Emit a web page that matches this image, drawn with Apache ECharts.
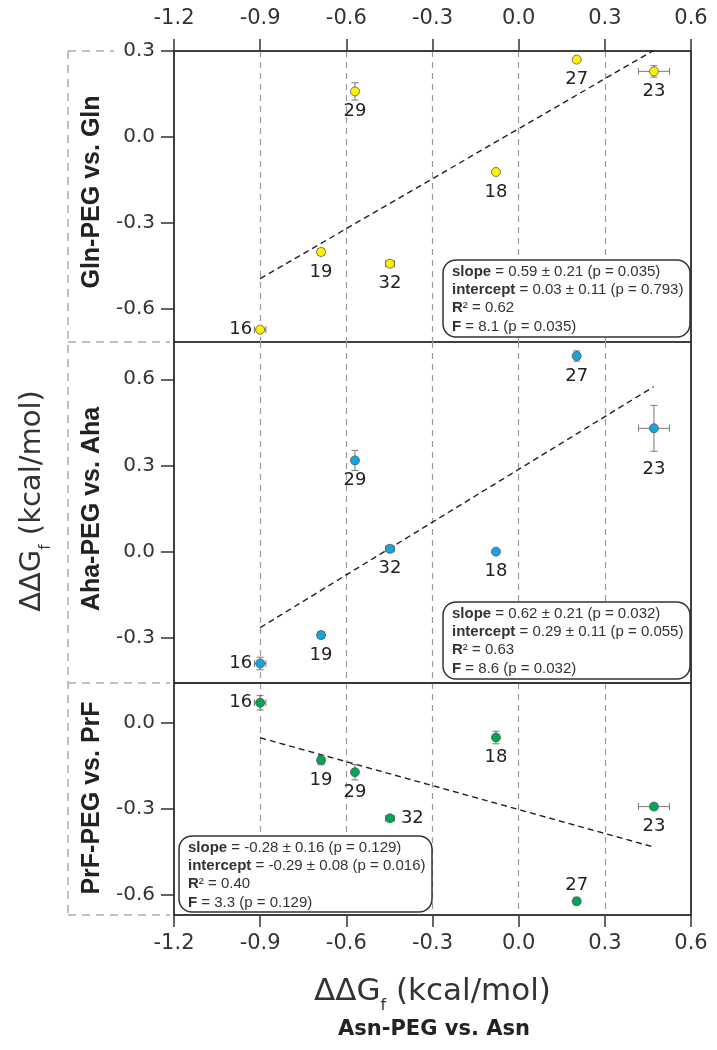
<!DOCTYPE html>
<html>
<head>
<meta charset="utf-8">
<script src="https://cdn.jsdelivr.net/npm/echarts@6/dist/echarts.min.js"></script>
<style>
html,body{margin:0;padding:0;background:#fff;}
#chart{width:717px;height:1050px;}
</style>
</head>
<body>
<div id="chart"></div>
<script>
// ---- data ----
const residues = ['29', '19', '16', '32', '18', '27', '23'];
const asnX    = [-0.570, -0.688, -0.900, -0.448, -0.079, 0.202, 0.471];
const asnXErr = [0.006, 0.012, 0.020, 0.015, 0.006, 0.008, 0.054];

const glnY    = [0.159, -0.401, -0.672, -0.442, -0.122, 0.270, 0.229];
const glnYErr = [0.030, 0.010, 0.008, 0.010, 0.005, 0.005, 0.020];
const ahaY    = [0.317, -0.292, -0.391, 0.009, -0.001, 0.681, 0.429];
const ahaYErr = [0.035, 0.012, 0.022, 0.012, 0.005, 0.018, 0.080];
const prfY    = [-0.173, -0.131, 0.069, -0.334, -0.052, -0.623, -0.293];
const prfYErr = [0.027, 0.016, 0.025, 0.008, 0.022, 0.012, 0.010];

const glnFit = [[-0.9, -0.494], [0.47, 0.302]];
const ahaFit = [[-0.9, -0.266], [0.47, 0.574]];
const prfFit = [[-0.9, -0.053], [0.47, -0.434]];

const xRange = [-1.2, 0.6];
const xStep = 0.3;
const glnRange = [-0.715, 0.3];
const ahaRange = [-0.459, 0.73];
const prfRange = [-0.671, 0.138];
const glnTicks = [-0.6, -0.3, 0, 0.3];
const ahaTicks = [-0.3, 0, 0.3, 0.6];
const prfTicks = [-0.6, -0.3, 0];

const panelNames = ['Gln-PEG vs. Gln', 'Aha-PEG vs. Aha', 'PrF-PEG vs. PrF'];
const xPanelName = 'Asn-PEG vs. Asn';
const statLabels = ['slope', 'intercept', 'R', 'F'];
const glnStats = ['0.59 ± 0.21 (p = 0.035)', '0.03 ± 0.11 (p = 0.793)', '0.62', '8.1 (p = 0.035)'];
const ahaStats = ['0.62 ± 0.21 (p = 0.032)', '0.29 ± 0.11 (p = 0.055)', '0.63', '8.6 (p = 0.032)'];
const prfStats = ['-0.28 ± 0.16 (p = 0.129)', '-0.29 ± 0.08 (p = 0.016)', '0.40', '3.3 (p = 0.129)'];

// ---- chart construction ----
const chart = echarts.init(document.getElementById('chart'), null, {renderer: 'canvas'});

const AXIS = '#333';
const GRIDC = '#9a9a9a';
const TICKFONT = 'DejaVu Sans';

const panels = [
  {y: glnY, ye: glnYErr, fit: glnFit, range: glnRange, ticks: glnTicks, color: '#FFF200',
   top: 51, height: 291,
   place: ['bottom','bottom','left','bottom','bottom','bottom','bottom'],
   dist:  [6,6,3,6,6,6,6]},
  {y: ahaY, ye: ahaYErr, fit: ahaFit, range: ahaRange, ticks: ahaTicks, color: '#17A5E0',
   top: 342, height: 341,
   place: ['bottom','bottom','left','bottom','bottom','bottom','bottom'],
   dist:  [6,6,3,6,6,6,27]},
  {y: prfY, ye: prfYErr, fit: prfFit, range: prfRange, ticks: prfTicks, color: '#00A651',
   top: 683, height: 232,
   place: ['bottom','bottom','left','right','bottom','top','bottom'],
   dist:  [6,6,3,6,6,2,6]}
];

const grids = [], xAxes = [], yAxes = [], series = [];
panels.forEach((p, i) => {
  grids.push({left: 174, right: 26, top: p.top, height: p.height, show: true,
              borderColor: AXIS, borderWidth: 1.5, backgroundColor: 'transparent'});
  const isTop = i === 0, isBottom = i === panels.length - 1;
  xAxes.push({
    gridIndex: i, type: 'value', min: xRange[0], max: xRange[1], interval: xStep,
    position: isTop ? 'top' : 'bottom',
    axisLine: {show: true, onZero: false, lineStyle: {color: AXIS, width: 1.5}},
    axisTick: {show: isTop || isBottom, inside: false, length: 12, lineStyle: {color: AXIS, width: 1.5}},
    axisLabel: {show: isTop || isBottom, margin: isTop ? 22 : 18, fontFamily: TICKFONT, fontSize: 21, color: '#333',
                formatter: v => v.toFixed(1)},
    splitLine: {show: true, showMinLine: false, showMaxLine: false,
                lineStyle: {color: GRIDC, type: [6, 5], width: 1.2}}
  });
  yAxes.push({
    gridIndex: i, type: 'value', min: p.range[0], max: p.range[1],
    axisLine: {show: true, onZero: false, lineStyle: {color: AXIS, width: 1.5}},
    axisTick: {show: true, length: 13, customValues: p.ticks, lineStyle: {color: AXIS, width: 1.5}},
    axisLabel: {show: true, margin: 19, fontFamily: TICKFONT, fontSize: 20, color: '#333',
                customValues: p.ticks, formatter: v => v.toFixed(1)},
    splitLine: {show: false}
  });
  // right border as an extra axis line
  yAxes.push({
    gridIndex: i, type: 'value', min: p.range[0], max: p.range[1], position: 'right',
    axisLine: {show: true, onZero: false, lineStyle: {color: AXIS, width: 1.5}},
    axisTick: {show: false}, axisLabel: {show: false}, splitLine: {show: false}
  });

  const yIdx = i * 2;
  const errData = residues.map((r, k) => [asnX[k], p.y[k], asnXErr[k], p.ye[k]]);
  series.push({
    type: 'custom', xAxisIndex: i, yAxisIndex: yIdx, z: 3, silent: true,
    data: errData, encode: {x: 0, y: 1},
    renderItem: (params, api) => {
      const x = api.value(0), y = api.value(1), ex = api.value(2), ey = api.value(3);
      const l = api.coord([x - ex, y]), r = api.coord([x + ex, y]);
      const t = api.coord([x, y + ey]), b = api.coord([x, y - ey]);
      const cap = 3.5;
      const st = {stroke: '#7a7a7a', lineWidth: 1};
      const ch = [];
      ch.push({type: 'line', shape: {x1: l[0], y1: l[1], x2: r[0], y2: r[1]}, style: st});
      ch.push({type: 'line', shape: {x1: l[0], y1: l[1] - cap, x2: l[0], y2: l[1] + cap}, style: st});
      ch.push({type: 'line', shape: {x1: r[0], y1: r[1] - cap, x2: r[0], y2: r[1] + cap}, style: st});
      ch.push({type: 'line', shape: {x1: t[0], y1: t[1], x2: b[0], y2: b[1]}, style: st});
      ch.push({type: 'line', shape: {x1: t[0] - cap, y1: t[1], x2: t[0] + cap, y2: t[1]}, style: st});
      ch.push({type: 'line', shape: {x1: b[0] - cap, y1: b[1], x2: b[0] + cap, y2: b[1]}, style: st});
      return {type: 'group', children: ch};
    }
  });
  series.push({
    type: 'line', xAxisIndex: i, yAxisIndex: yIdx, z: 2, silent: true,
    data: p.fit, symbol: 'none',
    lineStyle: {color: '#222', width: 1.4, type: [6, 4]}
  });
  series.push({
    type: 'scatter', xAxisIndex: i, yAxisIndex: yIdx, z: 4, silent: true,
    symbol: 'circle', symbolSize: 9,
    itemStyle: {color: p.color, borderColor: '#555', borderWidth: 0.8, opacity: 1},
    data: residues.map((r, k) => ({
      value: [asnX[k], p.y[k]],
      name: r,
      label: {show: true, position: p.place[k], distance: p.dist[k], formatter: r,
              fontFamily: TICKFONT, fontSize: 18, color: '#222'}
    }))
  });
});

// stats boxes
function statBox(stats, x, y, w, h) {
  const lines = stats.map((s, k) => {
    if (k === 2) return '{b|R}{n|² = ' + s + '}';
    return '{b|' + statLabels[k] + '}{n| = ' + s + '}';
  }).join('\n');
  return [
    {type: 'rect', z: 50, shape: {x: x, y: y, width: w, height: h, r: 13},
     style: {fill: '#fff', stroke: '#333', lineWidth: 1.5}},
    {type: 'text', z: 51, x: x + 9, y: y + 2.5,
     style: {text: lines, fill: '#333', font: '15px "Liberation Sans"',
       rich: {b: {fontWeight: 'bold', fontSize: 15, fontFamily: 'Liberation Sans', lineHeight: 18.3, fill: '#333'},
              n: {fontSize: 15, fontFamily: 'Liberation Sans', lineHeight: 18.3, fill: '#333'}}}}
  ];
}

const bracketStyle = {stroke: '#aaa', lineWidth: 1.5, lineDash: [8, 6]};
const graphic = [
  // left dashed bracket
  {type: 'line', z: 1, shape: {x1: 68, y1: 51, x2: 68, y2: 915}, style: bracketStyle},
  {type: 'line', z: 1, shape: {x1: 68, y1: 51, x2: 114, y2: 51}, style: bracketStyle},
  {type: 'line', z: 1, shape: {x1: 68, y1: 342, x2: 170, y2: 342}, style: bracketStyle},
  {type: 'line', z: 1, shape: {x1: 68, y1: 683, x2: 170, y2: 683}, style: bracketStyle},
  {type: 'line', z: 1, shape: {x1: 68, y1: 915, x2: 170, y2: 915}, style: bracketStyle},
  // panel titles
  ...[192, 509, 798].map((cy, k) => ({
    type: 'text', z: 10, x: 92, y: cy, rotation: Math.PI / 2,
    style: {text: panelNames[k], font: 'bold 25px "Liberation Sans"', fill: '#222',
            align: 'center', verticalAlign: 'middle'}
  })),
  // left y title
  {type: 'text', z: 10, x: 32, y: 501, rotation: Math.PI / 2,
   style: {text: '{m|ΔΔG}{s|f}{m| (kcal/mol)}', align: 'center', verticalAlign: 'middle', fill: '#333',
     rich: {m: {fontFamily: 'DejaVu Sans', fontSize: 29, lineHeight: 44, fill: '#333', verticalAlign: 'middle'},
            s: {fontFamily: 'DejaVu Sans', fontSize: 15, lineHeight: 16, fill: '#333', verticalAlign: 'bottom'}}}},
  // bottom x title
  {type: 'text', z: 10, x: 432.5, y: 992,
   style: {text: '{m|ΔΔG}{s|f}{m| (kcal/mol)}', align: 'center', verticalAlign: 'middle', fill: '#333',
     rich: {m: {fontFamily: 'DejaVu Sans', fontSize: 31, lineHeight: 44, fill: '#333', verticalAlign: 'middle'},
            s: {fontFamily: 'DejaVu Sans', fontSize: 16, lineHeight: 16, fill: '#333', verticalAlign: 'bottom'}}}},
  {type: 'text', z: 10, x: 434, y: 1030,
   style: {text: xPanelName, font: 'bold 21px "DejaVu Sans"', fill: '#222', align: 'center', verticalAlign: 'middle'}},
  ...statBox(glnStats, 443, 260, 247, 77),
  ...statBox(ahaStats, 443, 602, 247, 77),
  ...statBox(prfStats, 179, 836, 253, 76)
];

chart.setOption({
  animation: false,
  backgroundColor: '#fff',
  grid: grids,
  xAxis: xAxes,
  yAxis: yAxes,
  series: series,
  graphic: graphic
});
</script>
</body>
</html>
